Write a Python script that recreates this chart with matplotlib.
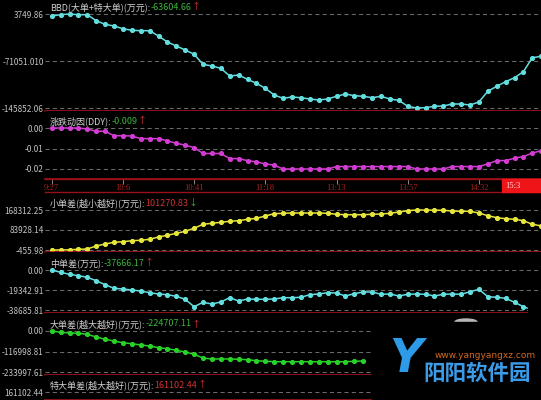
import numpy as np
import matplotlib.pyplot as plt
from matplotlib.patches import Rectangle, Ellipse

plt.rcParams['font.family'] = ['Noto Sans CJK SC', 'DejaVu Sans']

W, H = 541, 400

# 资金流数据 (每个点约5分钟)
bbd = [567, 2636, 3750, 2636, 2636, -6960, -12642, -15348, -19645, -22191,
       -22828, -22828, -31263, -40812, -47178, -53544, -60387, -76302, -79008, -82668,
       -94923, -93332, -100175, -106541, -114498, -125162, -130413, -128345, -129459, -131528,
       -133119, -131528, -127230, -123570, -126276, -127230, -129459, -127230, -131528, -133596,
       -143145, -145852, -145380, -143145, -142668, -139485, -139485, -141077, -136302, -119273,
       -111315, -103995, -97629, -88080, -65799, -63604.66]
ddy = [0.0, 0.0, 0.0, 0.0, -0.0005, -0.0016, -0.0016, -0.0038, -0.0038, -0.0039,
       -0.0052, -0.0052, -0.0052, -0.0063, -0.0075, -0.0084, -0.0096, -0.0125, -0.0125, -0.0125,
       -0.0150, -0.0150, -0.0160, -0.0166, -0.0176, -0.0182, -0.0201, -0.0201, -0.0201, -0.0201,
       -0.0201, -0.0201, -0.0189, -0.0189, -0.0189, -0.0189, -0.0189, -0.0189, -0.0189, -0.0189,
       -0.0189, -0.0201, -0.0201, -0.0201, -0.0201, -0.0189, -0.0189, -0.0189, -0.0189, -0.0176,
       -0.0160, -0.0160, -0.0148, -0.0140, -0.0123, -0.0111]
small = [-456, -456, 400, 2497, 3763, 16421, 24859, 32032, 34563, 38783,
         40470, 44689, 54394, 61566, 70005, 78443, 91101, 107977, 112197, 116416,
         120635, 123167, 129073, 133293, 142997, 152701, 154389, 155654, 155654, 155654,
         155654, 154389, 150169, 148482, 148482, 148482, 150169, 151435, 154389, 159874,
         165359, 168312, 168000, 167500, 167046, 164093, 162827, 162827, 155654, 144263,
         135824, 131605, 129073, 123167, 107977, 101270.83]
mid = [0, -2224, -4159, -5512, -7060, -10348, -14216, -17698, -18375, -19342,
       -20309, -21953, -23210, -23887, -25435, -28336, -35493, -31237, -32881, -30947,
       -26789, -29980, -28046, -28336, -28336, -28046, -26789, -26789, -26402, -23887,
       -23210, -21953, -22243, -25145, -22920, -21276, -21276, -23500, -23210, -25145,
       -23500, -23210, -23500, -25145, -23500, -23210, -23500, -20986, -18665, -25822,
       -26402, -27369, -31237, -35493, -38685.81, -37666.17]
# 大单差: 后半段被水印遮住
big = [0, -7419, -11414, -13126, -18833, -34242, -47368, -57070, -66772, -72479,
       -79898, -85605, -95307, -101014, -110145, -119847, -132973, -154089, -159796, -159796,
       -159796, -161508, -163791, -169498, -172922, -175205, -175205, -175205, -175205, -175205,
       -175205, -175205, -175205, -175205, -172922, -171210]

time_pos = [0, 8, 16, 24, 32, 40, 48]
time_lbl = ['9:27', '10:6', '10:41', '11:18', '13:13', '13:57', '14:32']

GREEN_TXT = '#3cb43c'
RED_TXT = '#d23232'

panels = [
    # top, bottom, (grid px 1, grid px 2), tick values, tick labels, data, colour, title parts
    dict(top=0, bot=111, gp=(14, 108), ticks=[3749.86, -71051.10, -145852.06],
         labels=['3749.86', '-71051.010', '-145852.06'], data=bbd, color='#62dede',
         title=[('BBD(大单+特大单)(万元):', '#d0d0d0'), ('-63604.66', GREEN_TXT), ('↑', RED_TXT)], ty=7),
    dict(top=111, bot=179, gp=(128, 169), ticks=[0.0, -0.01005, -0.0201],
         labels=['0.00', '-0.01', '-0.02'], data=ddy, color='#d23cd2',
         title=[('涨跌动因(DDY):', '#d0d0d0'), ('-0.009', GREEN_TXT), ('↑', RED_TXT)], ty=121),
    dict(top=192, bot=252, gp=(210, 250), ticks=[168312.25, 83928.14, -455.98],
         labels=['168312.25', '83928.14', '-455.98'], data=small, color='#e6e63c',
         title=[('小单差(越小越好)(万元):', '#d0d0d0'), ('101270.83', RED_TXT), ('↓', GREEN_TXT)], ty=203),
    dict(top=252, bot=313, gp=(270, 310), ticks=[0.0, -19342.91, -38685.81],
         labels=['0.00', '-19342.91', '-38685.81'], data=mid, color='#62dede',
         title=[('中单差(万元):', '#d0d0d0'), ('-37666.17', GREEN_TXT), ('↑', RED_TXT)], ty=263),
    dict(top=313, bot=375, gp=(331, 372), ticks=[0.0, -116998.81, -233997.61],
         labels=['0.00', '-116998.81', '-233997.61'], data=big, color='#28d228',
         title=[('大单差(越大越好)(万元):', '#d0d0d0'), ('-224707.11', GREEN_TXT), ('↑', RED_TXT)], ty=324),
    dict(top=375, bot=400, gp=(392, 412), ticks=[161102.44],
         labels=['161102.44'], data=None, color='#28d228',
         title=[('特大单差(越大越好)(万元):', '#d0d0d0'), ('161102.44', RED_TXT), ('↑', RED_TXT)], ty=385),
]

LEFT = 45
X0, STEP = 51.7, 8.9
xlim = ((LEFT - X0) / STEP, (W - X0) / STEP)

fig = plt.figure(figsize=(W / 100, H / 100), dpi=100, facecolor='black')


def pix_axes(top, bot):
    ax = fig.add_axes([LEFT / W, 1 - bot / H, (W - LEFT) / W, (bot - top) / H])
    ax.set_facecolor('black')
    ax.set_xlim(*xlim)
    for s in ['top', 'left', 'right', 'bottom']:
        ax.spines[s].set_visible(False)
    ax.set_xticks([])
    return ax


for p in panels:
    ax = pix_axes(p['top'], p['bot'])
    (y1, y2) = p['gp']
    v1 = p['ticks'][0]
    v2 = p['ticks'][-1] if len(p['ticks']) > 1 else v1 - 100000
    s = (v2 - v1) / (y2 - y1)
    ax.set_ylim(v1 + (p['bot'] - y1) * s, v1 + (p['top'] - y1) * s)
    ax.set_yticks(p['ticks'])
    ax.set_yticklabels(p['labels'])
    ax.tick_params(axis='y', length=0, pad=1.0, labelsize=5.9, labelcolor='#c4c4c4')
    ax.grid(axis='y', color='#6a6a6a', ls=(0, (4, 3)), lw=0.75)
    ax.spines['bottom'].set_visible(True)
    ax.spines['bottom'].set_color('#b4141e')
    ax.spines['bottom'].set_linewidth(1.1)
    if p['data'] is not None:
        ax.plot(np.arange(len(p['data'])), p['data'], color=p['color'], lw=1.1,
                marker='o', ms=2.7, mec=p['color'], mfc=p['color'])

# 时间轴
tax = pix_axes(179, 192)
tax.set_ylim(0, 1)
tax.set_yticks([])
for s in ['top', 'bottom']:
    tax.spines[s].set_visible(True)
    tax.spines[s].set_color('#9a1018')
    tax.spines[s].set_linewidth(1.0)
tax.vlines(time_pos, 0.62, 1.0, color='#a0a0a0', lw=0.6)
for xp, lb in zip(time_pos, time_lbl):
    tax.text(xp, 0.32, lb, color='#a82020', fontsize=6.2, family='Liberation Serif',
             ha='center', va='center')

# 覆盖层: 标题 / 光标 / 水印, 像素坐标
ov = fig.add_axes([0, 0, 1, 1], zorder=10)
ov.set_xlim(0, W)
ov.set_ylim(H, 0)
ov.axis('off')
ov.patch.set_visible(False)

for p in panels:
    prev = None
    for txt, col in p['title']:
        if prev is None:
            prev = ov.text(50, p['ty'], txt, color=col, fontsize=6.5, va='center', ha='left')
        else:
            prev = ov.annotate(txt, xy=(1, 0.5), xycoords=prev, color=col, fontsize=6.5,
                               va='center', ha='left', annotation_clip=False)

ov.add_patch(Rectangle((502, 179), W - 502, 13, color='#ee1418', zorder=3))
ov.text(505, 185.5, '15:3', color='#ffd8d8', fontsize=6.2, family='Liberation Serif',
        va='center', ha='left', zorder=4)

# 水印
ov.add_patch(Rectangle((372, 318), W - 372, H - 318, color='black', zorder=5))
ov.add_patch(Rectangle((528, 300), W - 528, 18, color='black', zorder=5))
ov.add_patch(Ellipse((466, 322), 22, 6, color='#b8b8b8', zorder=6))
ov.add_patch(Rectangle((450, 322), 35, 5, color='black', zorder=6))
ov.text(406, 359, 'Y', color='#2e9be8', fontsize=33, fontweight='bold', style='italic',
        family='DejaVu Sans', ha='center', va='center', zorder=7)
ov.text(485, 355, 'www.yangyangxz.com', color='#d2691e', fontsize=6.5,
        family='DejaVu Sans', ha='center', va='center', zorder=7)
ov.text(477, 373, '阳阳软件园', color='#3c9be6', fontsize=15.5, fontweight='bold',
        ha='center', va='center', zorder=7)

fig.savefig('out.png', dpi=100, facecolor='black')
